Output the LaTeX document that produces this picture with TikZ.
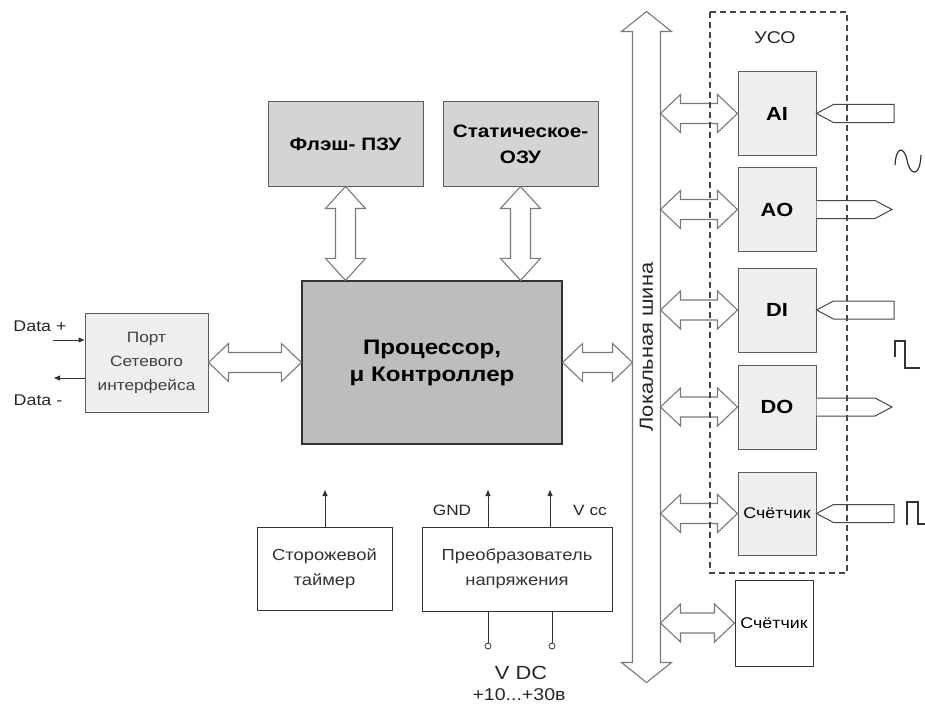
\documentclass[tikz,border=0pt]{standalone}
\usepackage{fontspec}
\setmainfont{Liberation Sans}[FakeStretch=1.15]
\usetikzlibrary{calc,arrows.meta}
\definecolor{cpugray}{HTML}{BDBDBD}
\definecolor{memgray}{HTML}{D4D4D4}
\definecolor{litegray}{HTML}{EEEEEE}
\definecolor{linegray}{HTML}{7A7A7A}
\definecolor{darkline}{HTML}{333333}
\newcommand\fs[2]{\fontsize{#1}{#2}\selectfont}
% horizontal double arrow between two points of equal height
\newcommand\hdar[2]{\draw[dar] let \p1=(#1), \p2=(#2) in
  (\x1,\y1) -- (\x1+20pt,\y1+19pt) -- (\x1+20pt,\y1+10pt) -- (\x2-20pt,\y1+10pt) -- (\x2-20pt,\y1+19pt)
  -- (\x2,\y1) -- (\x2-20pt,\y1-19pt) -- (\x2-20pt,\y1-10pt) -- (\x1+20pt,\y1-10pt) -- (\x1+20pt,\y1-19pt) -- cycle;}
% vertical double arrow, #1 upper point, #2 lower point
\newcommand\vdar[2]{\draw[dar] let \p1=(#1), \p2=(#2) in
  (\x1,\y1) -- (\x1+20pt,\y1-22pt) -- (\x1+10pt,\y1-22pt) -- (\x1+10pt,\y2+22pt) -- (\x1+20pt,\y2+22pt)
  -- (\x1,\y2) -- (\x1-20pt,\y2+22pt) -- (\x1-10pt,\y2+22pt) -- (\x1-10pt,\y1-22pt) -- (\x1-20pt,\y1-22pt) -- cycle;}
% signal arrow into a box: #1 tip at box, #2 tail end
\newcommand\sigin[2]{\draw[sar] let \p1=(#1), \p2=(#2) in
  (\x1,\y1) -- (\x1+17pt,\y1+9pt) -- (\x2,\y1+9pt) -- (\x2,\y1-9pt) -- (\x1+17pt,\y1-9pt) -- cycle;}
% signal arrow out of a box: #1 start at box, #2 tip
\newcommand\sigout[2]{\draw[sar] let \p1=(#1), \p2=(#2) in
  (\x1,\y1+9pt) -- (\x2-17pt,\y1+9pt) -- (\x2,\y1) -- (\x2-17pt,\y1-9pt) -- (\x1,\y1-9pt);}
\begin{document}
\begin{tikzpicture}[x=1pt,y=-1pt,
  blk/.style={rectangle, inner sep=0pt, line width=1pt, align=center},
  cpubox/.style={blk, fill=cpugray, draw=darkline, line width=1.2pt},
  membox/.style={blk, fill=memgray, draw=darkline!80},
  litebox/.style={blk, fill=litegray, draw=darkline!80},
  whitebox/.style={blk, fill=white, draw=darkline},
  dar/.style={draw=linegray, fill=white, line width=1.1pt, line join=miter},
  sar/.style={draw=darkline!90, fill=white, line width=1pt},
  thinarr/.style={draw=darkline, line width=0.9pt, -{Triangle[length=6pt,width=5pt]}},
  lbl/.style={inner sep=0pt, text=black!85}
]
\useasboundingbox (0,0) rectangle (925,706);
\fill[white] (0,0) rectangle (925,706);

% main nodes
\node[litebox, minimum width=123, minimum height=99, font=\fs{15}{24}, text=black!75] (port) at (146.5,362.5) {Порт\\Сетевого\\интерфейса};
\node[cpubox, minimum width=260, minimum height=163, font=\bfseries\fs{21}{27}] (cpu) at (432,362.5) {Процессор,\\μ Контроллер};
\node[membox, minimum width=155, minimum height=84, font=\bfseries\fs{18}{26}] (flash) at (345.5,144) {Флэш- ПЗУ};
\node[membox, minimum width=155, minimum height=84, font=\bfseries\fs{18}{26}] (sram) at (520.5,144) {Статическое-\\ОЗУ};

% data lines
\node[lbl, font=\fs{15.5}{16}] (dplus) at (40,326) {Data +};
\node[lbl, font=\fs{15.5}{16}] (dminus) at (38,400) {Data -};
\coordinate (dpin) at (53,340);
\coordinate (dmout) at (54,378);
\draw[thinarr] (dpin) -- (dpin -| port.west);
\draw[thinarr] (port.west |- dmout) -- (dmout);

% memory connections
\vdar{flash.south}{flash.south |- cpu.north}
\vdar{sram.south}{sram.south |- cpu.north}
\hdar{port.east}{cpu.west}

% local bus
\node[blk, minimum width=27, minimum height=630] (bus) at (646.5,347) {};
\draw[dar] (bus.north west) -- ($(bus.north west)+(-11,0)$) -- ($(bus.north)+(0,-20)$) -- ($(bus.north east)+(11,0)$)
  -- (bus.north east) -- (bus.south east) -- ($(bus.south east)+(11,0)$) -- ($(bus.south)+(0,20)$)
  -- ($(bus.south west)+(-11,0)$) -- (bus.south west) -- cycle;
\node[lbl, rotate=90, font=\fs{19}{20}] (busname) at (bus.center) {Локальная шина};
\hdar{cpu.east}{bus.west |- cpu.east}

% USO modules
\node[litebox, minimum width=78, minimum height=83, font=\bfseries\fs{19}{20}] (ai) at (777,113.5) {AI};
\node[litebox, minimum width=78, minimum height=84, font=\bfseries\fs{19}{20}] (ao) at (777,209.5) {AO};
\node[litebox, minimum width=78, minimum height=84, font=\bfseries\fs{19}{20}] (di) at (777,310) {DI};
\node[litebox, minimum width=78, minimum height=84, font=\bfseries\fs{19}{20}] (do) at (777,407) {DO};
\node[litebox, minimum width=78, minimum height=83, font=\fs{15.5}{16}] (cnta) at (777,513.5) {Счётчик};
\node[whitebox, minimum width=78, minimum height=86, font=\fs{15.5}{16}] (cntb) at (774,623) {Счётчик};

\hdar{bus.east |- ai.west}{ai.west}
\hdar{bus.east |- ao.west}{ao.west}
\hdar{bus.east |- di.west}{di.west}
\hdar{bus.east |- do.west}{do.west}
\hdar{bus.east |- cnta.west}{cnta.west}
\hdar{bus.east |- cntb.west}{cntb.west}

% signal arrows
\coordinate (aiend) at (894,113.5);
\coordinate (aoend) at (892,209.5);
\coordinate (diend) at (894,310);
\coordinate (doend) at (892,407);
\coordinate (cntend) at (894,513.5);
\sigin{ai.east}{aiend}
\sigout{ao.east}{aoend}
\sigin{di.east}{diend}
\sigout{do.east}{doend}
\sigin{cnta.east}{cntend}

% USO dashed frame
\draw[darkline!90, line width=1.1pt, dash pattern=on 6pt off 4pt] (710,12) rectangle (847,573);
\node[lbl, font=\fs{17}{18}] (uso) at (775,38) {УСО};

% waveforms
\draw[darkline, line width=1.2pt] (895,165) .. controls (896,146) and (904,146) .. (907,160)
  .. controls (910,176) and (920,178) .. (921,155);
\draw[darkline, line width=1.2pt] (895,357) -- (895,341) -- (905,341) -- (905,368) -- (920,368);
\draw[darkline, line width=1.2pt] (907,525) -- (907,502) -- (918,502) -- (918,524) -- (925,524);

% bottom blocks
\node[whitebox, minimum width=135, minimum height=83, font=\fs{16}{25}, text=black!80] (wd) at (324.5,568.5) {Сторожевой\\таймер};
\node[whitebox, minimum width=190, minimum height=84, font=\fs{16}{25}, text=black!80] (conv) at (517,569) {Преобразователь\\напряжения};
\coordinate (wdup) at (325,490);
\coordinate (gndup) at (488,490);
\coordinate (vccup) at (550,490);
\draw[thinarr] (wdup |- wd.north) -- (wdup);
\draw[thinarr] (gndup |- conv.north) -- (gndup);
\draw[thinarr] (vccup |- conv.north) -- (vccup);
\node[lbl, font=\fs{15}{16}] (gnd) at (452,510) {GND};
\node[lbl, font=\fs{15}{16}] (vcc) at (590,510) {V cc};
\node[circle, draw=darkline, fill=white, inner sep=0pt, minimum size=6pt, line width=0.8pt] (t1) at (488,646) {};
\node[circle, draw=darkline, fill=white, inner sep=0pt, minimum size=6pt, line width=0.8pt] (t2) at (552,646) {};
\draw[darkline, line width=0.9pt] (t1 |- conv.south) -- (t1.north);
\draw[darkline, line width=0.9pt] (t2 |- conv.south) -- (t2.north);
\node[lbl, font=\fs{19}{20}] (vdc) at (521,673) {V DC};
\node[lbl, font=\fs{17}{18}] (vrange) at (519,695) {+10...+30в};
\end{tikzpicture}
\end{document}
